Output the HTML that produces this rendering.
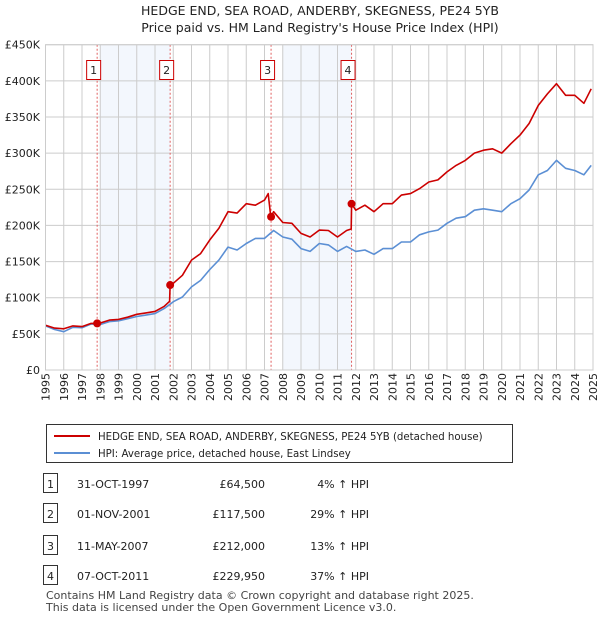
<!DOCTYPE html>
<html><head><meta charset="utf-8"><style>
body{margin:0;background:#fff;font-family:"DejaVu Sans","Liberation Sans",sans-serif;}
#wrap{position:relative;width:600px;height:620px;overflow:hidden;}
</style></head><body>
<div id="wrap">
<svg id="chart" width="600" height="620" xmlns="http://www.w3.org/2000/svg" font-family="DejaVu Sans, Liberation Sans, sans-serif">
<text x="320" y="15" text-anchor="middle" font-size="12.5" fill="#222">HEDGE END, SEA ROAD, ANDERBY, SKEGNESS, PE24 5YB</text>
<text x="320" y="32" text-anchor="middle" font-size="12.5" fill="#222">Price paid vs. HM Land Registry's House Price Index (HPI)</text>
<g id="plot"></g>
<g>
<rect x="46.5" y="424.5" width="466" height="38" fill="#fff" stroke="#333"/>
<line x1="54" y1="436" x2="90" y2="436" stroke="#cc0000" stroke-width="2"/>
<text x="98" y="440" font-size="10.2" fill="#222">HEDGE END, SEA ROAD, ANDERBY, SKEGNESS, PE24 5YB (detached house)</text>
<line x1="54" y1="453" x2="90" y2="453" stroke="#5b8fd4" stroke-width="2"/>
<text x="98" y="457" font-size="10.2" fill="#222">HPI: Average price, detached house, East Lindsey</text>
</g>
<g id="table" font-size="11" fill="#222"></g>
<text x="46" y="599" font-size="11" fill="#444">Contains HM Land Registry data © Crown copyright and database right 2025.</text>
<text x="46" y="611" font-size="11" fill="#444">This data is licensed under the Open Government Licence v3.0.</text>
</svg>
</div>
<script>
const yTickValues=[0,50,100,150,200,250,300,350,400,450];
const yTickLabels=["£0","£50K","£100K","£150K","£200K","£250K","£300K","£350K","£400K","£450K"];
const xYears=[1995,1996,1997,1998,1999,2000,2001,2002,2003,2004,2005,2006,2007,2008,2009,2010,2011,2012,2013,2014,2015,2016,2017,2018,2019,2020,2021,2022,2023,2024,2025];
const hpiDates=[1995,1995.5,1996,1996.5,1997,1997.5,1998,1998.5,1999,1999.5,2000,2000.5,2001,2001.5,2001.83,2002,2002.5,2003,2003.5,2004,2004.5,2005,2005.5,2006,2006.5,2007,2007.5,2008,2008.5,2009,2009.5,2010,2010.5,2011,2011.5,2012,2012.5,2013,2013.5,2014,2014.5,2015,2015.5,2016,2016.5,2017,2017.5,2018,2018.5,2019,2019.5,2020,2020.5,2021,2021.5,2022,2022.5,2023,2023.5,2024,2024.5,2024.9];
const hpiValues=[61,56,53,59,58.5,63.6,63,67,68,71,74,76,78,85,91,94.5,101,115,124,139,152,170,166,175,182,182,193,184,181,168,164,175,173,164,171,164,166,160,168,168,177,177,187,191,193.5,203,210,212,221,223,221,219,230,237,249,270,276,290,279,276,270,283];
const priceDates=[1995,1995.5,1996,1996.5,1997,1997.5,1997.83,1998,1998.5,1999,1999.5,2000,2000.5,2001,2001.5,2001.8,2001.83,2002,2002.5,2003,2003.5,2004,2004.5,2005,2005.5,2006,2006.5,2007,2007.2,2007.33,2007.36,2007.5,2008,2008.5,2009,2009.5,2010,2010.5,2011,2011.5,2011.75,2011.77,2012,2012.5,2013,2013.5,2014,2014.5,2015,2015.5,2016,2016.5,2017,2017.5,2018,2018.5,2019,2019.5,2020,2020.5,2021,2021.5,2022,2022.5,2023,2023.5,2024,2024.5,2024.9];
const priceValues=[62,58,57,61,60,64.5,64.5,65,69,70,73,77,79,81,88,95,117.5,120,131,152,161,180,196,219,217,230,228,235,244,215,212,219,204,203,189,184,193.5,193,184,193,195,229.95,221,228,219,230,230,242,244,251,260,263,274,283,290,300,304,306,300,313,325,341,366,382,396,380,380,369,389];
const saleLabels=["1","2","3","4"];
const saleDates=[1997.83,2001.83,2007.36,2011.77];
const saleValues=[64.5,117.5,212,229.95];
const saleDateText=["31-OCT-1997","01-NOV-2001","11-MAY-2007","07-OCT-2011"];
const salePriceText=["£64,500","£117,500","£212,000","£229,950"];
const saleHpiText=["4% ↑ HPI","29% ↑ HPI","13% ↑ HPI","37% ↑ HPI"];
const bandStarts=[1998.0,2008.0];
const bandEnds=[2001.83,2011.77];

const L=45.5,R=593,T=44.7,B=370;
const xs=y=>L+(y-1995)*(R-L)/30;
const ys=v=>B-v*(B-T)/450;
const NS="http://www.w3.org/2000/svg";
const plot=document.getElementById('plot');
function mk(tag,attrs,parent){const e=document.createElementNS(NS,tag);for(const k in attrs)e.setAttribute(k,attrs[k]);(parent||plot).appendChild(e);return e;}

bandStarts.forEach((s,i)=>{
 const r=mk('rect',{x:xs(s),y:T,width:xs(bandEnds[i])-xs(s),height:B-T,fill:'#eef3fc',opacity:0.7});
 
 
});
xYears.forEach(y=>{
 const l=mk('line',{x1:xs(y),x2:xs(y),y1:T,y2:B,stroke:'#cccccc','stroke-width':1});
 
 
 const t=mk('text',{x:0,y:0,'font-size':11,fill:'#222','text-anchor':'end',transform:`translate(${xs(y)+4},373) rotate(-90)`});
 t.textContent=y;
 
 
});
yTickValues.forEach((v,i)=>{
 const l=mk('line',{x1:L,x2:R,y1:ys(v),y2:ys(v),stroke:'#cccccc','stroke-width':1});
 
 
 const t=mk('text',{x:40,y:ys(v)+4,'font-size':11,fill:'#222','text-anchor':'end'});
 t.textContent=yTickLabels[i];
 
 
});
saleDates.forEach((d,i)=>{
 const l=mk('line',{x1:xs(d),x2:xs(d),y1:T,y2:B,stroke:'#e06060','stroke-width':1,'stroke-dasharray':'2,2'});
 
 
});
function path(dx,vy,color,name){
 const d=dx.map((x,i)=>(i?'L':'M')+xs(x).toFixed(1)+','+ys(vy[i]).toFixed(1)).join('');
 const p=mk('path',{d:d,fill:'none',stroke:color,'stroke-width':1.6,'stroke-linejoin':'round'});
 
 
}
path(hpiDates,hpiValues,'#5b8fd4','hpi-line');
path(priceDates,priceValues,'#cc0000','price-paid-line');
saleDates.forEach((d,i)=>{
 const c=mk('circle',{cx:xs(d),cy:ys(saleValues[i]),r:4,fill:'#cc0000'});
 
 
 const b=mk('rect',{x:xs(d)-10.5,y:60.5,width:14,height:19,fill:'#fff',stroke:'#cc0000'});
 
 
 const t=mk('text',{x:xs(d)-3.5,y:74,'font-size':11,fill:'#222','text-anchor':'middle'});
 t.textContent=saleLabels[i];
 
 
});
const ax=mk('rect',{x:L,y:T,width:R-L,height:B-T,fill:'none',stroke:'#cccccc'});



const tbl=document.getElementById('table');
const rowY=[484,514,546,576];
saleLabels.forEach((s,i)=>{
 const y=rowY[i];
 const b=mk('rect',{x:43.5,y:y-10.5,width:14,height:19,fill:'#fff',stroke:'#333'},tbl);
 
 
 const vals=[[s,50.5,'middle'],[saleDateText[i],77,'start'],[salePriceText[i],265,'end'],[saleHpiText[i],369,'end']];
 vals.forEach((v,j)=>{
  const t=mk('text',{x:v[1],y:y+4,'text-anchor':v[2]},tbl);
  t.textContent=v[0];
  
  
 });
});
</script>
</body></html>
